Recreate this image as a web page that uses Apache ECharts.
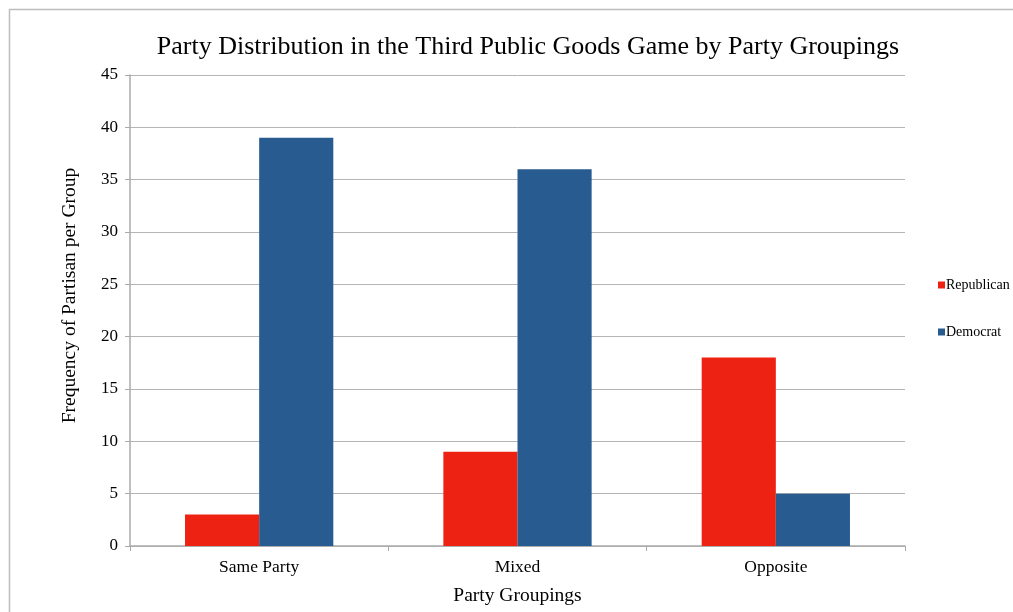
<!DOCTYPE html>
<html><head><meta charset="utf-8">
<script src="https://cdn.jsdelivr.net/npm/echarts@6/dist/echarts.min.js"></script>
<style>html,body{margin:0;padding:0;background:#fff}#c{width:1013px;height:612px}</style>
</head><body><div id="c"></div>
<script>
const categories = ["Same Party", "Mixed", "Opposite"];
const republican = [3, 9, 18];
const democrat = [39, 36, 5];
const yTicks = [0, 5, 10, 15, 20, 25, 30, 35, 40, 45];

const font = "'Liberation Serif', 'Times New Roman', serif";
const chart = echarts.init(document.getElementById('c'), null, {renderer: 'canvas'});
chart.setOption({
  animation: false,
  backgroundColor: '#fff',
  textStyle: {fontFamily: font, color: '#000'},
  graphic: [{type: 'rect', shape: {x: 9.5, y: 9.5, width: 1100, height: 700}, style: {fill: 'none', stroke: '#bdbdbd', lineWidth: 1.5}, silent: true}],
  title: {text: 'Party Distribution in the Third Public Goods Game by Party Groupings', left: 523, textAlign: 'center', top: 29,
    textStyle: {fontFamily: font, fontSize: 26, fontWeight: 'normal', color: '#000'}},
  grid: {left: 130, right: 108, top: 75, bottom: 66, containLabel: false, outerBoundsMode: 'none'},
  legend: {orient: 'vertical', left: 933, top: 273, itemGap: 33, itemWidth: 7, itemHeight: 7, icon: 'rect',
    textStyle: {fontFamily: font, fontSize: 14, color: '#000', padding: [0,0,0,-4]},
    data: ['Republican', 'Democrat']},
  xAxis: {type: 'category', data: categories, name: 'Party Groupings', nameLocation: 'middle', nameGap: 40,
    nameTextStyle: {fontFamily: font, fontSize: 19.5, color: '#000'},
    axisLine: {lineStyle: {color: '#aaa', width: 1.5}},
    axisTick: {show: true, alignWithLabel: false, length: 5, lineStyle: {color: '#aaa'}},
    axisLabel: {fontFamily: font, fontSize: 17.5, color: '#000', margin: 12}},
  yAxis: {type: 'value', min: 0, max: 45, interval: 5, name: 'Frequency of Partisan per Group', nameLocation: 'middle', nameGap: 50,
    nameTextStyle: {fontFamily: font, fontSize: 19.5, color: '#000', padding: [0, 0, 0, 30]},
    axisLine: {show: true, lineStyle: {color: '#aaa', width: 1.5}},
    axisTick: {show: true, length: 5, lineStyle: {color: '#aaa'}},
    axisLabel: {fontFamily: font, fontSize: 17, color: '#000', margin: 12,
      formatter: v => yTicks.includes(v) ? String(v) : ''},
    splitLine: {lineStyle: {color: '#b5b5b5', width: 1}}},
  series: [
    {name: 'Republican', type: 'bar', data: republican, barGap: '0%', barCategoryGap: '42.6%', itemStyle: {color: '#EE2212'}},
    {name: 'Democrat', type: 'bar', data: democrat, barGap: '0%', barCategoryGap: '42.6%', itemStyle: {color: '#285B8F'}}
  ]
});
</script></body></html>
